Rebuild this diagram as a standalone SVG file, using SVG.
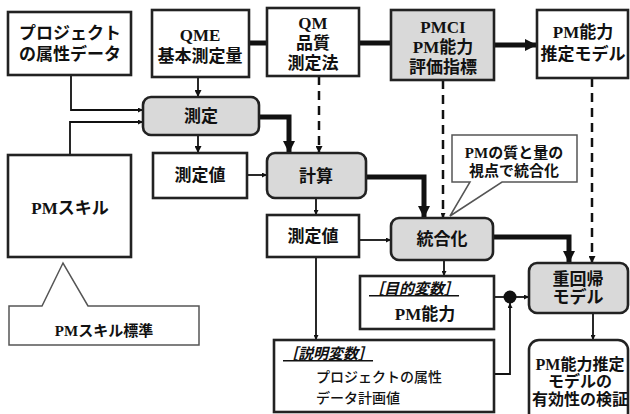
<svg xmlns="http://www.w3.org/2000/svg" width="630" height="414" viewBox="0 0 630 414">
<defs>
<style>
.box{fill:#fff;stroke:#222;stroke-width:2.6}
.proc{fill:#d9d9d9;stroke:#222;stroke-width:2.6}
.call{fill:#fff;stroke:#555;stroke-width:1.5}
.t{font-family:"Liberation Serif","Noto Sans CJK JP",serif;font-weight:bold;font-size:17px;fill:#111;text-anchor:middle}
.ts{font-size:15px}
.tm{font-size:16px}
.lab{font-family:"Liberation Serif","Noto Sans CJK JP",serif;font-weight:bold;font-style:italic;font-size:15px;fill:#111;text-decoration:underline}
.plain{font-family:"Noto Sans CJK JP",sans-serif;font-size:14px;font-weight:500;fill:#111}
.ln{fill:none;stroke:#111;stroke-width:1.8}
.thick{fill:none;stroke:#111;stroke-width:5}
.dash{fill:none;stroke:#111;stroke-width:2.5;stroke-dasharray:9,6}
</style>
<marker id="a" viewBox="0 0 10 10" refX="10" refY="5" markerWidth="5" markerHeight="5" orient="auto" markerUnits="userSpaceOnUse"><path d="M0,0 L10,5 L0,10 Z" fill="#111"/></marker>
<marker id="am" viewBox="0 0 10 10" refX="10" refY="5" markerWidth="7" markerHeight="7" orient="auto" markerUnits="userSpaceOnUse"><path d="M0,0 L10,5 L0,10 Z" fill="#111"/></marker>
<marker id="ab" viewBox="0 0 10 10" refX="10" refY="5" markerWidth="14" markerHeight="12" orient="auto" markerUnits="userSpaceOnUse"><path d="M0,0 L10,5 L0,10 Z" fill="#111"/></marker>
</defs>
<rect width="630" height="414" fill="#fff"/>

<g id="connectors">
<path class="ln" d="M71,75 V110 H143" marker-end="url(#a)"/>
<path class="ln" d="M70,155 V122 H143" marker-end="url(#a)"/>
<path class="ln" d="M198,77 V97" marker-end="url(#am)"/>
<path class="thick" d="M249,43 H267"/>
<path class="thick" d="M359,43 H391"/>
<path class="thick" d="M494,45 H537" marker-end="url(#ab)"/>
<path class="thick" d="M259,117 H289 V153" marker-end="url(#ab)"/>
<path class="ln" d="M198,135 V153" marker-end="url(#am)"/>
<path class="dash" d="M319,76 V153" marker-end="url(#am)"/>
<path class="ln" d="M247,175 H267" marker-end="url(#a)"/>
<path class="thick" d="M366,177 H424 V218" marker-end="url(#ab)"/>
<path class="dash" d="M443,80 V218" marker-end="url(#a)"/>
<path class="ln" d="M316,198 V215" marker-end="url(#a)"/>
<path class="ln" d="M359,240 H391" marker-end="url(#a)"/>
<path class="ln" d="M444,260 V276" marker-end="url(#a)"/>
<path class="ln" d="M316,257 V340" marker-end="url(#a)"/>
<path class="thick" d="M493,237 H569 V263" marker-end="url(#ab)"/>
<path class="dash" d="M592,78 V263" marker-end="url(#am)"/>
<path class="ln" d="M494,297 H510"/>
<path class="ln" d="M510,297 H529" marker-end="url(#a)"/>
<path class="ln" d="M494,374 H510 V303" marker-end="url(#a)"/>
<path class="ln" d="M593,313 V340" marker-end="url(#a)"/>
<circle cx="510" cy="297" r="6.5" fill="#111"/>
</g>

<g id="n_proj"><rect class="box" x="8" y="12" width="123" height="63"/>
<text class="t" x="70" y="39">プロジェクト</text><text class="t" x="70" y="60">の属性データ</text></g>

<g id="n_qme"><rect class="box" x="152" y="10" width="97" height="67"/>
<text class="t" x="200" y="41">QME</text><text class="t" x="200" y="62">基本測定量</text></g>

<g id="n_qm"><rect class="box" x="267" y="8" width="92" height="68"/>
<text class="t" x="313" y="29">QM</text><text class="t" x="313" y="49">品質</text><text class="t" x="313" y="69">測定法</text></g>

<g id="n_pmci"><rect class="proc" x="391" y="10" width="103" height="70"/>
<text class="t" x="443" y="33">PMCI</text><text class="t" x="443" y="53">PM能力</text><text class="t" x="443" y="73">評価指標</text></g>

<g id="n_model"><rect class="box" x="537" y="10" width="91" height="68"/>
<text class="t" x="583" y="38">PM能力</text><text class="t" x="583" y="60">推定モデル</text></g>

<g id="n_sokutei"><rect class="proc" x="143" y="97" width="116" height="38" rx="8"/>
<text class="t" x="201" y="122">測定</text></g>

<g id="n_skill"><rect class="box" x="8" y="155" width="123" height="102"/>
<text class="t" x="70" y="214">PMスキル</text></g>

<g id="n_skillstd"><path class="call" d="M9,306 H42 L63,263 L88,306 H199 V345 H9 Z"/>
<text class="t ts" x="104" y="336">PMスキル標準</text></g>

<g id="n_sokuteichi"><rect class="box" x="153" y="153" width="94" height="45"/>
<text class="t" x="200" y="181">測定値</text></g>

<g id="n_keisan"><rect class="proc" x="267" y="153" width="99" height="45" rx="8"/>
<text class="t" x="316" y="182">計算</text></g>

<g id="n_note"><path class="call" d="M452,135 H577 V182 H502 L450,216 L470,182 H452 Z"/>
<text class="t ts" x="514" y="158">PMの質と量の</text><text class="t ts" x="514" y="176">視点で統合化</text></g>

<g id="n_sokuteichi2"><rect class="box" x="267" y="215" width="92" height="42"/>
<text class="t" x="313" y="242">測定値</text></g>

<g id="n_tougou"><rect class="proc" x="391" y="218" width="102" height="42" rx="8"/>
<text class="t" x="442" y="245">統合化</text></g>

<g id="n_mokuteki"><rect class="box" x="360" y="276" width="134" height="53"/>
<text class="lab" x="369" y="294">［目的変数］</text><text class="t" x="425" y="320">PM能力</text></g>

<g id="n_setsumei"><rect class="box" x="274" y="340" width="220" height="72"/>
<text class="lab" x="283" y="359">［説明変数］</text>
<text class="plain" x="316" y="382">プロジェクトの属性</text>
<text class="plain" x="316" y="403">データ計画値</text></g>

<g id="n_juukaiki"><rect class="proc" x="529" y="263" width="99" height="50" rx="8"/>
<text class="t" x="578" y="285">重回帰</text><text class="t" x="578" y="303">モデル</text></g>

<g id="n_kensho"><rect class="box" x="529" y="340" width="99" height="90" rx="10"/>
<text class="t tm" x="580" y="370">PM能力推定</text><text class="t tm" x="580" y="387">モデルの</text><text class="t tm" x="580" y="405">有効性の検証</text></g>
</svg>
